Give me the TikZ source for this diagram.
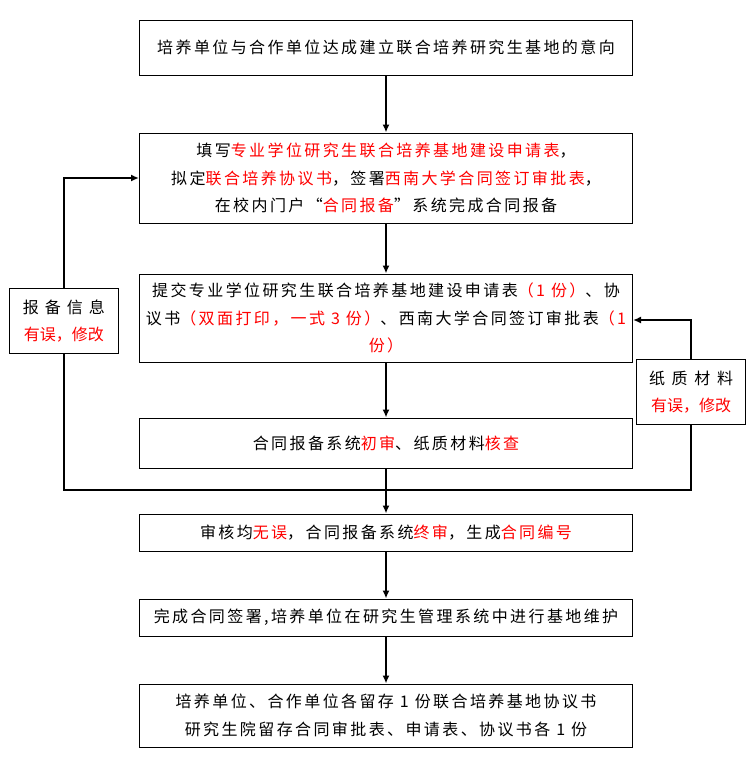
\documentclass[tikz,border=0pt]{standalone}
\usepackage{fontspec}
\usepackage{xcolor}
\usetikzlibrary{arrows.meta}
\newfontfamily\cjk[LetterSpace=15]{Noto Sans CJK SC}
\newfontfamily\cjkside{Noto Sans CJK SC}
\newcommand{\hl}[1]{\textcolor{red}{#1}}

\begin{document}
\begin{tikzpicture}[x=1pt,y=-1pt,
    flowbox/.style={draw,line width=1pt,minimum width=493pt,align=center,inner sep=0pt,
      font=\cjk\fontsize{16}{27.5}\selectfont},
    sidebox/.style={draw,line width=1pt,minimum width=109pt,minimum height=65pt,align=center,inner sep=0pt,
      font=\cjkside\fontsize{16}{27}\selectfont},
    arr/.style={-{Latex[length=8pt,width=7pt]},line width=1.8pt},
    ln/.style={line width=1.8pt}]
  \useasboundingbox (0,0) rectangle (754,777);
  % Main steps
  \node[flowbox,minimum height=55pt] (b1) at (386,47.5) {培养单位与合作单位达成建立联合培养研究生基地的意向};
  \node[flowbox,minimum height=90pt] (b2) at (386,178) {填写\hl{专业学位研究生联合培养基地建设申请表}，\\
    拟定\hl{联合培养协议书}，签署\hl{西南大学合同签订审批表}，\\
    在校内门户“\hl{合同报备}”系统完成合同报备};
  \node[flowbox,minimum height=88pt] (b3) at (386,318) {提交专业学位研究生联合培养基地建设申请表\hl{（1 份）}、协\\
    议书\hl{（双面打印，一式 3 份）}、西南大学合同签订审批表\hl{（1}\\
    \hl{份）}};
  \node[flowbox,minimum height=50pt] (b4) at (386,443) {合同报备系统\hl{初审}、纸质材料\hl{核查}};
  \node[flowbox,minimum height=37pt] (b5) at (386,532.5) {审核均\hl{无误}，合同报备系统\hl{终审}，生成\hl{合同编号}};
  \node[flowbox,minimum height=37pt] (b6) at (386,617.5) {完成合同签署,培养单位在研究生管理系统中进行基地维护};
  \node[flowbox,minimum height=63pt] (b7) at (386,715.5) {培养单位、合作单位各留存 1 份联合培养基地协议书\\
    研究生院留存合同审批表、申请表、协议书各 1 份};
  % Correction boxes
  \node[sidebox] (fixl) at (64,321) {\makebox[82pt][s]{报 备 信 息}\\\hl{有误，修改}};
  \node[sidebox] (fixr) at (691,392) {\makebox[84pt][s]{纸 质 材 料}\\\hl{有误，修改}};
  % Arrows
  \draw[arr] (b1) -- (b2);
  \draw[arr] (b2) -- (b3);
  \draw[arr] (b3) -- (b4);
  \draw[arr] (b4) -- (b5);
  \draw[arr] (b5) -- (b6);
  \draw[arr] (b6) -- (b7);
  % Feedback loops
  \coordinate (jl) at (64,490);
  \coordinate (jr) at (691,490);
  \draw[ln] (fixr.south) -- (jr) -- (jl) -- (fixl.south);
  \draw[arr] (fixl.north) |- (b2.west);
  \draw[arr] (fixr.north) |- ([yshift=-2pt]b3.east);
\end{tikzpicture}
\end{document}
